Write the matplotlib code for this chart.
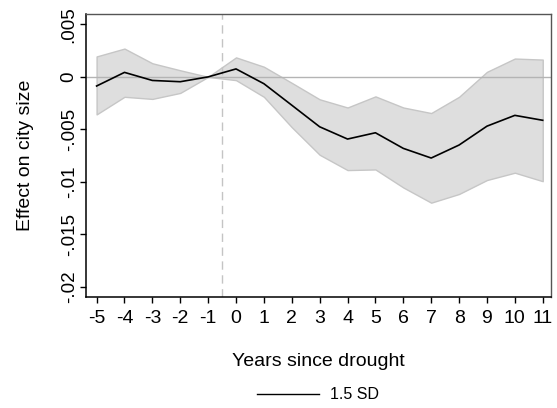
import numpy as np
import matplotlib.pyplot as plt
from matplotlib.lines import Line2D

plt.rcParams['font.family'] = ['Liberation Sans', 'DejaVu Sans']

years = [-5, -4, -3, -2, -1, 0, 1, 2, 3, 4, 5, 6, 7, 8, 9, 10, 11]
effect = [-0.00087, 0.00043, -0.00034, -0.00046, 0.0, 0.00076, -0.00065, -0.0027,
          -0.00476, -0.00593, -0.00533, -0.00682, -0.00774, -0.0065, -0.0047,
          -0.00367, -0.00414]
ci_upper = [0.00195, 0.0027, 0.0013, 0.00063, 0.0, 0.00186, 0.00097, -0.00057,
            -0.00214, -0.00292, -0.00186, -0.00292, -0.00345, -0.0019, 0.00048,
            0.00175, 0.00165]
ci_lower = [-0.00358, -0.0019, -0.0021, -0.00153, 0.0, -0.00031, -0.0019, -0.0048,
            -0.00743, -0.00889, -0.00883, -0.01055, -0.012, -0.01117, -0.00984,
            -0.00914, -0.00995]

ytick_vals = [0.005, 0, -0.005, -0.01, -0.015, -0.02]
ytick_labels = ['.005', '0', '-.005', '-.01', '-.015', '-.02']

fig = plt.figure(figsize=(5.57, 4.08), dpi=100)
ax = fig.add_axes([0.1544, 0.272, 0.835, 0.6937])

ax.fill_between(years, ci_lower, ci_upper, facecolor='#dedede',
                edgecolor='#c6c6c6', linewidth=1.0, zorder=1)
ax.axhline(0, color='#b4b4b4', linewidth=1.0, zorder=2)
ax.axvline(-0.5, color='#c4c4c4', linewidth=1.0, linestyle=(0, (6, 4)), zorder=2)
ax.plot(years, effect, color='black', linewidth=1.2, zorder=3)

ax.set_xlim(-5.38, 11.3)
ax.set_ylim(-0.0210, 0.0060)
ax.set_xticks(years)
ax.set_xticklabels([str(y) for y in years], fontsize=14)
ax.set_yticks(ytick_vals)
ax.set_yticklabels(ytick_labels, fontsize=13.5, rotation=90, va='center')
ax.tick_params(direction='out', length=4, width=1, colors='black')
ax.tick_params(axis='x', pad=5)
ax.tick_params(axis='y', pad=2)

for side in ['left', 'bottom']:
    ax.spines[side].set_color('black')
    ax.spines[side].set_linewidth(1.1)
for side in ['top', 'right']:
    ax.spines[side].set_color('#555555')
    ax.spines[side].set_linewidth(1.0)

ax.set_xlabel('Years since drought', fontsize=14, labelpad=19)
ax.set_ylabel('Effect on city size', fontsize=14, labelpad=19)

handle = Line2D([], [], color='black', linewidth=1.0)
fig.legend([handle], ['1.5 SD'], loc='center', bbox_to_anchor=(0.571, 0.032),
           frameon=False, fontsize=11.5, handlelength=3.9, handletextpad=0.7)

fig.savefig('out.png', dpi=100)
